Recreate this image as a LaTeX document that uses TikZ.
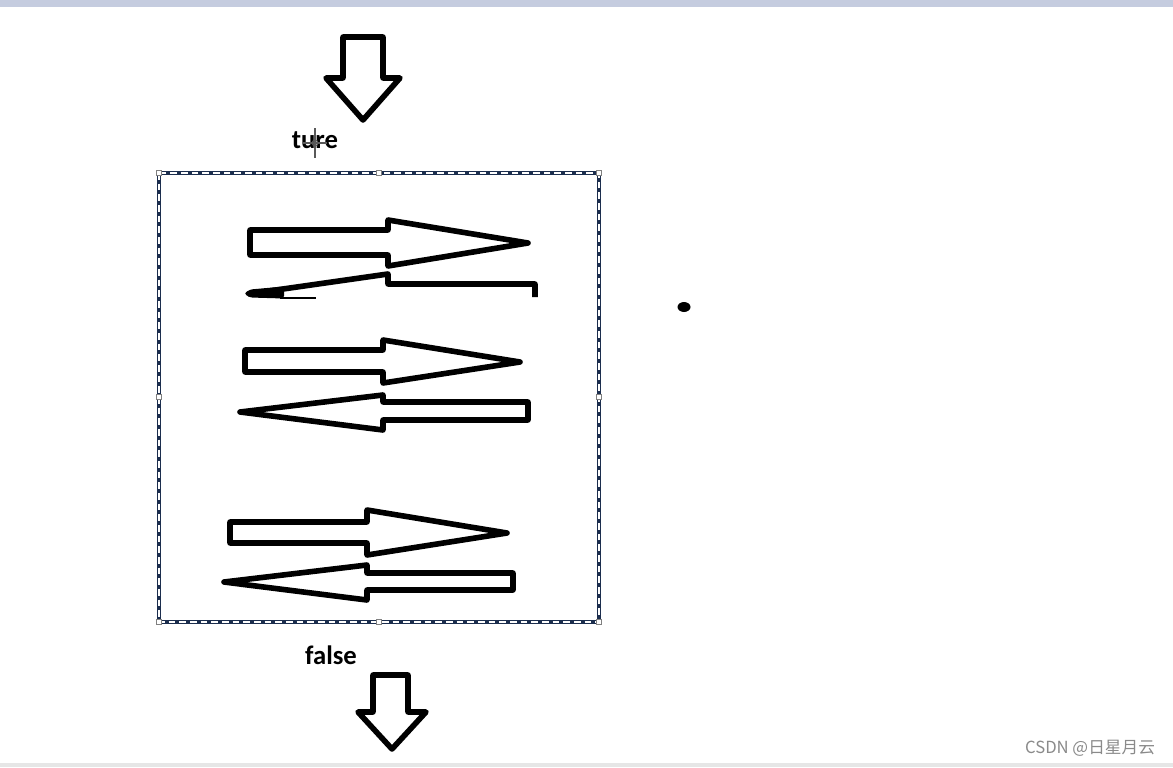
\documentclass[tikz,border=0pt]{standalone}
\usepackage{fontspec}
\setmainfont{Carlito}
\newfontfamily\cjk{Noto Sans CJK SC}
\definecolor{topband}{HTML}{C5CCDF}
\definecolor{botband}{HTML}{E6E6E6}
\definecolor{navy}{HTML}{1C2E4E}
\definecolor{wmark}{HTML}{8A8A8A}
\tikzset{
  blk/.style={draw=black, line width=4.2pt, line join=round, fill=white},
  label/.style={font=\bfseries\fontsize{20}{22}\selectfont, inner sep=0pt},
  handle/.style={draw=gray, fill=white, line width=0.5pt, minimum size=4pt, inner sep=0pt, rectangle}
}
\begin{document}
\begin{tikzpicture}[x=0.75pt,y=-0.75pt]
\useasboundingbox (0,0) rectangle (1173,767);
\fill[white] (0,0) rectangle (1173,767);
\fill[topband] (0,0) rectangle (1173,7);
\fill[botband] (0,763) rectangle (1173,767);

% top down arrow
\draw[blk] (343,37) -- (383,37) -- (383,78) -- (400,78) -- (363,120) -- (326,78) -- (343,78) -- cycle;
\node[label] (ture) at (315,140) {ture};
% cursor crosshair
\draw[gray!70!black, line width=0.8pt] (315,128) -- (315,158);
\draw[gray!70!black, line width=0.8pt] (303,143) -- (327,143);
\draw[gray!70!black, line width=0.6pt] (315,143) circle (3);

% selected box
\draw[navy, line width=3pt] (159,173) rectangle (599,622);
\draw[white, line width=0.9pt, dash pattern=on 5pt off 3pt] (159,173) rectangle (599,622);
\foreach \px in {159,379,599}{
  \node[handle] at (\px,173) {};
  \node[handle] at (\px,622) {};
}
\node[handle] at (159,397) {};
\node[handle] at (599,397) {};

% pair 1
\draw[blk] (250,230) -- (388,230) -- (388,220) -- (528,243) -- (388,266) -- (388,255) -- (250,255) -- cycle;
\draw[black, line width=4.2pt, line join=round] (535,297) -- (535,284) -- (388,284) -- (388,274) -- (248,294);
\fill[black, rounded corners=2pt] (244,293.5) -- (250,289.5) -- (284,286.5) -- (284,298.5) -- (250,297.5) -- cycle;
\draw[black, line width=1.5pt] (280,297.5) -- (316,297.5);

% pair 2
\draw[blk] (245,350) -- (383,350) -- (383,340) -- (520,362) -- (383,383) -- (383,372) -- (245,372) -- cycle;
\draw[blk] (528,402) -- (383,402) -- (383,395) -- (240,412) -- (383,430) -- (383,420) -- (528,420) -- cycle;

% pair 3
\draw[blk] (230,522) -- (367,522) -- (367,510) -- (507,533) -- (367,555) -- (367,543) -- (230,543) -- cycle;
\draw[blk] (513,573) -- (367,573) -- (367,565) -- (224,582) -- (367,600) -- (367,590) -- (513,590) -- cycle;

% dot
\fill[black] (684,307) ellipse (6.5 and 5);

% false and bottom arrow
\node[label] (false) at (331,655) {false};
\draw[blk] (373,675) -- (408,675) -- (408,712) -- (426,712) -- (392,749) -- (358,712) -- (373,712) -- cycle;

% watermark
\node[text=wmark, font=\cjk\fontsize{12.5}{14}\selectfont, inner sep=0pt] (wm) at (1090,748) {CSDN @日星月云};
\end{tikzpicture}
\end{document}
